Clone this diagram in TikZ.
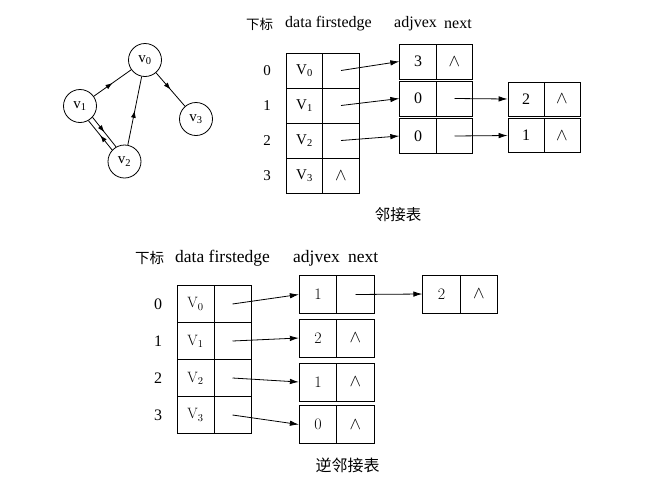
\documentclass[tikz,border=0pt]{standalone}
\usepackage{fontspec}
\newfontfamily\tnr{Liberation Serif}
\newfontfamily\cjk{Noto Sans CJK SC}
\usetikzlibrary{arrows.meta,decorations.markings}
\newcommand{\fs}[1]{\fontsize{#1}{#1}\selectfont}
\begin{document}
\begin{tikzpicture}[x=1pt,y=-1pt,
  ln/.style={line width=0.8pt},
  gv/.style={circle,draw,ln,minimum size=33pt,inner sep=0pt,font=\tnr\fs{15}},
  midarrow/.style={postaction={decorate},decoration={markings,
     mark=at position 0.5 with {\arrow{Latex[length=7pt,width=5pt]}}}},
  ucell/.style={draw,ln,inner sep=0pt,minimum width=36.5pt,minimum height=35pt,font=\tnr\fs{15}},
  urcell/.style={draw,ln,inner sep=0pt,minimum width=36pt,minimum height=34pt,font=\tnr\fs{15}},
  lcell/.style={draw,ln,inner sep=0pt,minimum width=37pt,minimum height=37pt,font=\fs{15}},
  lecell/.style={draw,ln,inner sep=0pt,minimum width=37.5pt,minimum height=38pt,font=\fs{16}},
  uhead/.style={inner sep=0pt,font=\tnr\fs{16}},
  lhead/.style={inner sep=0pt,font=\tnr\fs{17.5}},
  idx/.style={inner sep=0pt,font=\tnr\fs{15}},
  captext/.style={inner sep=0pt,font=\cjk\fs{15.5}},
  lk/.style={ln,-{Latex[length=9pt,width=5.5pt]}}
]
\useasboundingbox (0,0) rectangle (657,483);
\fill[white] (0,0) rectangle (657,483);

% ---------- graph ----------
\node[gv] (v0) at (145,60) {v\textsubscript{0}};
\node[gv] (v1) at (80,106) {v\textsubscript{1}};
\node[gv] (v2) at (124.5,161.5) {v\textsubscript{2}};
\node[gv] (v3) at (196,119) {v\textsubscript{3}};
\draw[ln,midarrow] (v1) -- (v0);
\draw[ln,midarrow] (v0) -- (v3);
\draw[ln,midarrow] (v2) -- (v0);
\draw[ln,midarrow] (v1.-42.6) -- (v2.120);
\draw[ln,midarrow] (v2.137.4) -- (v1.-60);

% ---------- upper: adjacency list ----------
\node[captext,font=\cjk\fs{13.5},anchor=west] (uh0) at (246,24) {下标};
\node[uhead,anchor=west] (uh1) at (285,24) {data firstedge};
\node[uhead,anchor=west] (uh2) at (394,24) {adjvex};
\node[uhead,anchor=west] (uh3) at (444,24) {next};

\foreach \i/\y in {0/70.5,1/105.5,2/140.5,3/175.5}{
  \node[idx] (ui\i) at (267,\y) {\i};
  \node[ucell] (ud\i) at (304.5,\y) {V\textsubscript{\i}};
}
\node[ucell] (uf0) at (341,70.5) {};
\node[ucell] (uf1) at (341,105.5) {};
\node[ucell] (uf2) at (341,140.5) {};
\node[ucell,font=\fs{17}] (uf3) at (341,175.5) {$\wedge$};

\node[ucell,font=\tnr\fs{16}] (ua0) at (418,61.5) {3};
\node[ucell,font=\fs{17}] (un0) at (454.5,61.5) {$\wedge$};
\node[ucell,font=\tnr\fs{16}] (ua1) at (418,98.5) {0};
\node[ucell] (un1) at (454.5,98.5) {};
\node[ucell,font=\tnr\fs{16}] (ua2) at (418,136) {0};
\node[ucell] (un2) at (454.5,136) {};

\node[urcell,font=\tnr\fs{16}] (ura1) at (526,99) {2};
\node[urcell,font=\fs{17}] (urn1) at (562,99) {$\wedge$};
\node[urcell,font=\tnr\fs{16}] (ura2) at (526,135.5) {1};
\node[urcell,font=\fs{17}] (urn2) at (562,135.5) {$\wedge$};

\draw[lk] (uf0.center) -- (ua0.west);
\draw[lk] (uf1.center) -- (ua1.west);
\draw[lk] (uf2.center) -- (ua2.west);
\draw[lk] (un1.center) -- (ura1.west);
\draw[lk] (un2.center) -- (ura2.west);

\node[captext] (ucap) at (398,215) {邻接表};

% ---------- lower: inverse adjacency list ----------
\node[captext,font=\cjk\fs{14.5},anchor=west] (lh0) at (135,258) {下标};
\node[lhead,anchor=west] (lh1) at (175,258) {data firstedge};
\node[lhead,anchor=west] (lh2) at (293,258) {adjvex};
\node[lhead,anchor=west] (lh3) at (348,258) {next};

\foreach \i/\y in {0/304,1/341,2/378,3/415}{
  \node[idx,font=\tnr\fs{16}] (li\i) at (158,\y) {\i};
  \node[lcell] (ld\i) at (195.5,\y) {V\textsubscript{\i}};
  \node[lcell] (lf\i) at (232.5,\y) {};
}

\node[lecell] (la0) at (318,294.5) {1};
\node[lecell] (ln0) at (355.5,294.5) {};
\node[lecell] (la1) at (318,338) {2};
\node[lecell,font=\fs{17}] (ln1) at (355.5,338) {$\wedge$};
\node[lecell] (la2) at (318,382) {1};
\node[lecell,font=\fs{17}] (ln2) at (355.5,382) {$\wedge$};
\node[lecell] (la3) at (318,424.5) {0};
\node[lecell,font=\fs{17}] (ln3) at (355.5,424.5) {$\wedge$};

\node[lecell] (lra0) at (441.5,294) {2};
\node[lecell,font=\fs{17}] (lrn0) at (479,294) {$\wedge$};

\draw[lk] (lf0.center) -- (la0.west);
\draw[lk] (lf1.center) -- (la1.west);
\draw[lk] (lf2.center) -- (la2.west);
\draw[lk] (lf3.center) -- (la3.west);
\draw[lk] (ln0.center) -- (lra0.west);

\node[captext,font=\cjk\fs{16}] (lcap) at (347.5,465) {逆邻接表};
\end{tikzpicture}
\end{document}
